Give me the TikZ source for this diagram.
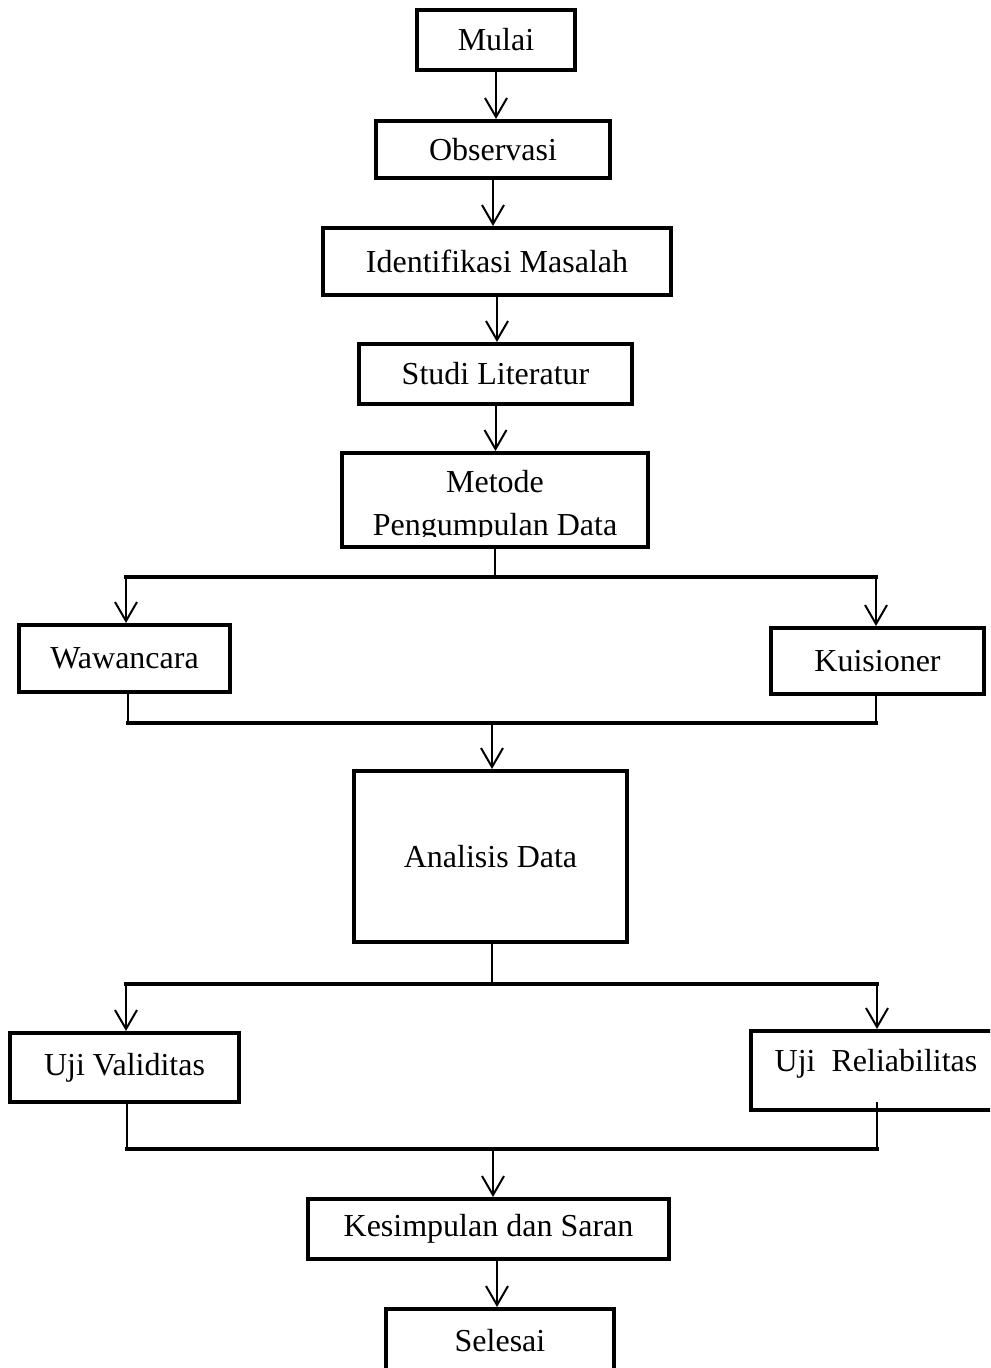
\documentclass[tikz,border=0pt]{standalone}
\usepackage{fontspec}
\setmainfont{Liberation Serif}
\usetikzlibrary{arrows.meta}
\tikzset{
  box/.style={draw, line width=2pt, inner sep=0pt, align=center, font=\fontsize{16}{21}\selectfont},
  lbl/.style={inner sep=0pt, font=\fontsize{16}{21}\selectfont},
  arr/.style={line width=1pt, -{Straight Barb[length=9.5pt,width=11pt]}},
  conn/.style={line width=1.4pt},
  bar/.style={line width=1.9pt, line cap=rect}
}
\begin{document}
\begin{tikzpicture}[x=0.5pt,y=-0.5pt]
\useasboundingbox (0,0) rectangle (990,1368);
\fill[white] (0,0) rectangle (990,1368);
\clip (0,0) rectangle (990,1368);

% boxes
\node[box, minimum width=158pt*0.5, minimum height=60pt*0.5] (mulai) at (496,40) {Mulai};
\node[box, minimum width=234pt*0.5, minimum height=57pt*0.5] (obs) at (493,149.5) {Observasi};
\node[box, minimum width=348pt*0.5, minimum height=67pt*0.5] (ident) at (497,261.5) {Identifikasi Masalah};
\node[box, minimum width=273pt*0.5, minimum height=60pt*0.5] (studi) at (495.5,374) {Studi Literatur};
\node[box, minimum width=306pt*0.5, minimum height=94pt*0.5] (metode) at (495,500) {};
\begin{scope}
  \clip (342,453) rectangle (648,536);
  \node[lbl, anchor=base] (metodeA) at (495,493) {Metode};
  \node[lbl, anchor=base] (metodeB) at (495,535) {Pengumpulan Data};
\end{scope}
\node[box, minimum width=211pt*0.5, minimum height=67pt*0.5] (waw) at (124.5,658.5) {Wawancara};
\node[box, minimum width=213pt*0.5, minimum height=66pt*0.5] (kuis) at (877.5,661) {Kuisioner};
\node[box, minimum width=273pt*0.5, minimum height=171pt*0.5] (anal) at (490.5,856.5) {Analisis Data};
\node[box, minimum width=229pt*0.5, minimum height=69pt*0.5] (uv) at (124.5,1067.5) {Uji Validitas};
\node[box, minimum width=249pt*0.5, minimum height=79pt*0.5] (ur) at (875.5,1070.5) {};
\node[lbl] (urt) at (876,1064) {Uji\ \ Reliabilitas};
\node[box, minimum width=361pt*0.5, minimum height=60pt*0.5] (kes) at (488.5,1229) {Kesimpulan dan Saran};
\node[box, minimum width=228pt*0.5, minimum height=71pt*0.5] (sel) at (500,1344.5) {};
\node[lbl] (selt) at (500,1341) {Selesai};

% branch coordinates
\coordinate (b1) at (495,577);
\coordinate (b1L) at (126,577);
\coordinate (b1R) at (876,577);
\coordinate (m1) at (492,723);
\coordinate (m1L) at (128,723);
\coordinate (m1R) at (876,723);
\coordinate (b2) at (492,984);
\coordinate (b2L) at (126,984);
\coordinate (b2R) at (877,984);
\coordinate (m2) at (493,1149);
\coordinate (m2L) at (127,1149);
\coordinate (m2R) at (877,1149);
\coordinate (urin) at (877,1102);
\coordinate (kesout) at (497,1259);

% straight arrows
\draw[arr] (mulai.south) -- (mulai.south |- obs.north);
\draw[arr] (obs.south) -- (obs.south |- ident.north);
\draw[arr] (ident.south) -- (ident.south |- studi.north);
\draw[arr] (studi.south) -- (studi.south |- metode.north);

% first branch
\draw[conn] (metode.south) -- (b1);
\draw[bar] (b1L) -- (b1R);
\draw[arr] (b1L) -- (b1L |- waw.north);
\draw[arr] (b1R) -- (b1R |- kuis.north);

% first merge
\draw[conn] (waw.south -| m1L) -- (m1L);
\draw[conn] (kuis.south -| m1R) -- (m1R);
\draw[bar] (m1L) -- (m1R);
\draw[arr] (m1) -- (m1 |- anal.north);

% second branch
\draw[conn] (anal.south -| b2) -- (b2);
\draw[bar] (b2L) -- (b2R);
\draw[arr] (b2L) -- (b2L |- uv.north);
\draw[arr] (b2R) -- (b2R |- ur.north);

% second merge
\draw[conn] (uv.south -| m2L) -- (m2L);
\draw[conn] (urin) -- (m2R);
\draw[bar] (m2L) -- (m2R);
\draw[arr] (m2) -- (m2 |- kes.north);
\draw[arr] (kesout) -- (kesout |- sel.north);
\end{tikzpicture}
\end{document}
